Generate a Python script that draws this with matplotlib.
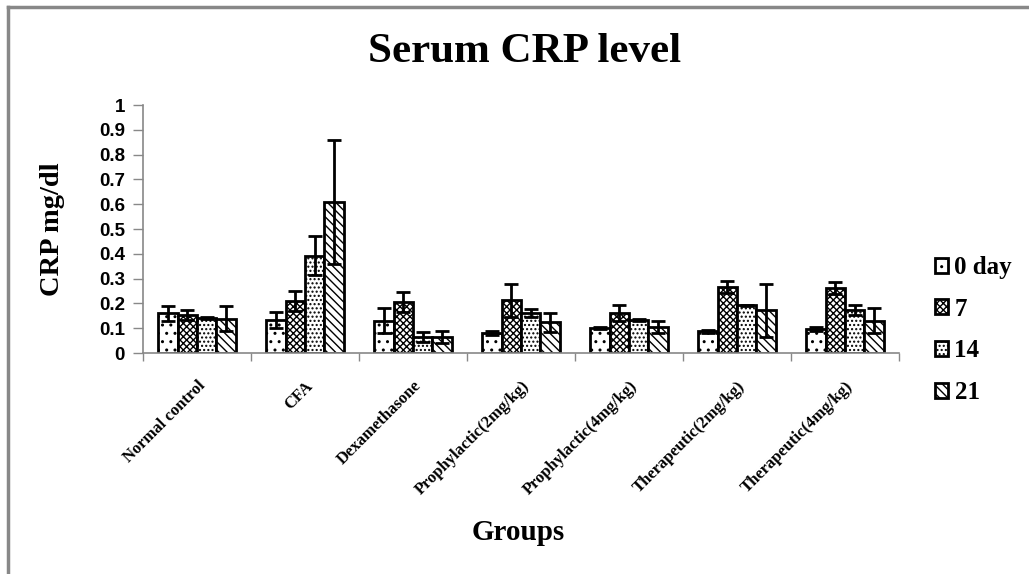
import matplotlib
matplotlib.use("Agg")
import matplotlib.pyplot as plt
import numpy as np
from matplotlib.lines import Line2D

groups = ["Normal control", "CFA", "Dexamethasone", "Prophylactic(2mg/kg)",
          "Prophylactic(4mg/kg)", "Therapeutic(2mg/kg)", "Therapeutic(4mg/kg)"]
series_names = ["0 day", "7", "14", "21"]

day0 = [0.161, 0.134, 0.131, 0.080, 0.100, 0.087, 0.097]
day7 = [0.154, 0.208, 0.204, 0.212, 0.161, 0.266, 0.262]
day14 = [0.141, 0.393, 0.063, 0.161, 0.134, 0.192, 0.172]
day21 = [0.139, 0.608, 0.064, 0.123, 0.106, 0.172, 0.131]

err0 = [0.030, 0.033, 0.049, 0.007, 0.004, 0.007, 0.008]
err7 = [0.020, 0.040, 0.040, 0.068, 0.031, 0.024, 0.024]
err14 = [0.005, 0.080, 0.020, 0.015, 0.004, 0.003, 0.020]
err21 = [0.052, 0.250, 0.023, 0.037, 0.025, 0.106, 0.050]

values = [day0, day7, day14, day21]
errors = [err0, err7, err14, err21]
hatches = ["..", "xxxxx", "....", "\\\\\\\\"]

plt.rcParams['hatch.linewidth'] = 1.0

fig = plt.figure(figsize=(10.29, 5.74), dpi=100)
ax = fig.add_axes([143/1029, 1-353/574, (899-143)/1029, (353-105)/574])

x = np.arange(len(groups))
bw = 0.18
for i, (vals, errs, h, name) in enumerate(zip(values, errors, hatches, series_names)):
    pos = x - 1.5*bw + i*bw
    ax.bar(pos, vals, width=bw, color="white", edgecolor="black",
           linewidth=2.0, hatch=h, label=name, zorder=2)
    ax.errorbar(pos, vals, yerr=errs, fmt="none", ecolor="black",
                elinewidth=2.0, capsize=5, capthick=2.0, zorder=3)

ax.set_xlim(-0.5, len(groups) - 0.5)
ax.set_ylim(0, 1)
ax.set_yticks(np.arange(0, 1.01, 0.1))
ax.set_yticklabels(["0", "0.1", "0.2", "0.3", "0.4", "0.5", "0.6", "0.7", "0.8", "0.9", "1"],
                   fontfamily="Liberation Sans", fontweight="bold", fontsize=13.5)
ax.set_xticks(x)
ax.set_xticklabels(groups, rotation=45, ha="right", va="top", rotation_mode="anchor",
                   fontfamily="Liberation Serif", fontweight="bold", fontsize=12)
ax.set_xticks(np.arange(-0.5, len(groups), 1.0), minor=True)
ax.tick_params(axis="x", which="major", length=0, pad=18)
ax.tick_params(axis="x", which="minor", length=6, color="#888888", width=1)
ax.tick_params(axis="y", length=7, color="#888888", width=1, pad=6)

for s in ["top", "right"]:
    ax.spines[s].set_visible(False)
for s in ["left", "bottom"]:
    ax.spines[s].set_color("#888888")
    ax.spines[s].set_linewidth(1.2)

ax.set_ylabel("CRP mg/dl", fontfamily="Liberation Serif", fontweight="bold", fontsize=20.5,
              labelpad=24)
fig.text(518/1029, 1-533/574, "Groups", ha="center", va="center",
         fontfamily="Liberation Serif", fontweight="bold", fontsize=21)
fig.text(525/1029, 1-52/574, "Serum CRP level", ha="center", va="center",
         fontfamily="Liberation Serif", fontweight="bold", fontsize=31)

leg = ax.legend(loc="center left", bbox_to_anchor=(912/1029, 1-330/574),
                bbox_transform=fig.transFigure, frameon=False,
                prop={"family": "Liberation Serif", "weight": "bold", "size": 18},
                handlelength=0.55, handleheight=0.55, handletextpad=0.25,
                labelspacing=0.75)

# outer frame (left and top visible)
fig.add_artist(Line2D([8/1029, 8/1029], [0, 1-7/574], transform=fig.transFigure,
                      color="#888888", linewidth=2.5))
fig.add_artist(Line2D([8/1029, 1], [1-7/574, 1-7/574], transform=fig.transFigure,
                      color="#888888", linewidth=2.5))

fig.savefig("out.png", dpi=100)
